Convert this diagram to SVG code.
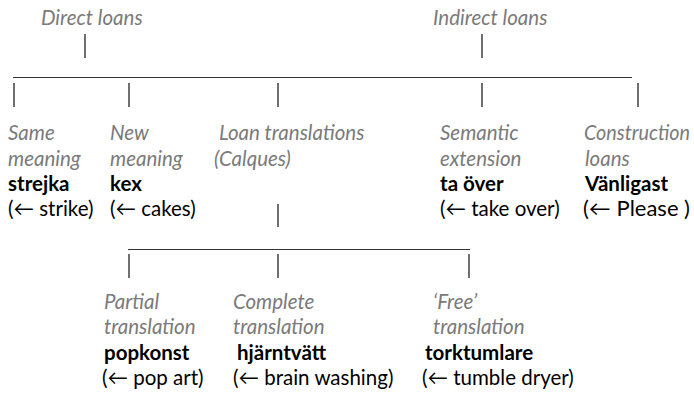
<svg xmlns="http://www.w3.org/2000/svg" width="694" height="398" viewBox="0 0 694 398">
<style>
text{font-family:Lato,"Open Sans","Liberation Sans",sans-serif;font-size:20.5px}
.c{fill:#7a7a7a;font-style:italic}
.w{fill:#000;font-weight:bold}
.e{fill:#000}
.l{stroke:#222;stroke-width:1.3;fill:none}
.h{stroke:#333;stroke-width:1;fill:none}
</style>
<rect width="694" height="398" fill="#fff"/>
<g id="connectors">
<line class="l" x1="85" y1="34" x2="85" y2="58"/>
<line class="l" x1="482" y1="34" x2="482" y2="58"/>
<line class="h" x1="13" y1="77.5" x2="632" y2="77.5"/>
<line class="l" x1="14" y1="83" x2="14" y2="107"/>
<line class="l" x1="129" y1="83" x2="129" y2="107"/>
<line class="l" x1="278" y1="83" x2="278" y2="107"/>
<line class="l" x1="482" y1="83" x2="482" y2="107"/>
<line class="l" x1="638" y1="83" x2="638" y2="107"/>
<line class="l" x1="278" y1="204" x2="278" y2="227"/>
<line class="h" x1="128" y1="249.5" x2="470" y2="249.5"/>
<line class="l" x1="129" y1="254" x2="129" y2="278"/>
<line class="l" x1="278" y1="254" x2="278" y2="278"/>
<line class="l" x1="469" y1="254" x2="469" y2="278"/>
</g>
<g id="direct"><text class="c" x="41" y="25">Direct loans</text></g>
<g id="indirect"><text class="c" x="433" y="25">Indirect loans</text></g>
<g id="same">
<text class="c" x="8" y="140">Same</text>
<text class="c" x="8" y="166">meaning</text>
<text class="w" x="8" y="191">strejka</text>
<text class="e" x="8" y="216">(← strike)</text>
</g>
<g id="new">
<text class="c" x="110" y="140">New</text>
<text class="c" x="110" y="166">meaning</text>
<text class="w" x="110" y="191">kex</text>
<text class="e" x="110" y="216">(← cakes)</text>
</g>
<g id="loantrans">
<text class="c" x="219" y="140">Loan translations</text>
<text class="c" x="214" y="166">(Calques)</text>
</g>
<g id="semantic">
<text class="c" x="440" y="140">Semantic</text>
<text class="c" x="440" y="166">extension</text>
<text class="w" x="440" y="191">ta över</text>
<text class="e" x="440" y="216">(← take over)</text>
</g>
<g id="construction">
<text class="c" x="584" y="140" textLength="106" lengthAdjust="spacingAndGlyphs">Construction</text>
<text class="c" x="585" y="166">loans</text>
<text class="w" x="585" y="191">Vänligast</text>
<text class="e" x="583" y="216" textLength="107" lengthAdjust="spacingAndGlyphs">(← Please )</text>
</g>
<g id="partial">
<text class="c" x="104" y="309">Partial</text>
<text class="c" x="104" y="334">translation</text>
<text class="w" x="104" y="360">popkonst</text>
<text class="e" x="102" y="385">(← pop art)</text>
</g>
<g id="complete">
<text class="c" x="233" y="309">Complete</text>
<text class="c" x="233" y="334">translation</text>
<text class="w" x="237" y="360">hjärntvätt</text>
<text class="e" x="233" y="385">(← brain washing)</text>
</g>
<g id="free">
<text class="c" x="433" y="309">‘Free’</text>
<text class="c" x="433" y="334">translation</text>
<text class="w" x="425" y="360">torktumlare</text>
<text class="e" x="422" y="385">(← tumble dryer)</text>
</g>
</svg>
